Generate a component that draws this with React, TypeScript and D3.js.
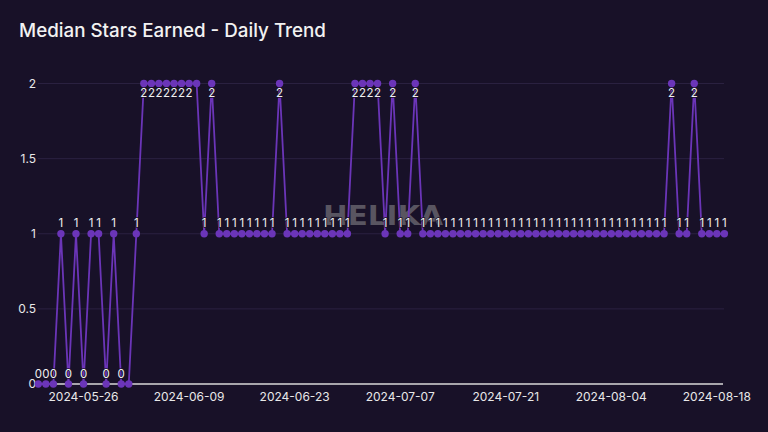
import React from "react";
import * as d3 from "d3";

const title = "Median Stars Earned - Daily Trend";
const startDate = "2024-05-20";
const values: number[] = [
  0, 0, 0, 1, 0, 1, 0, 1, 1, 0, 1, 0, 0, 1,
  2, 2, 2, 2, 2, 2, 2, 2,
  1, 2,
  1, 1, 1, 1, 1, 1, 1, 1,
  2,
  1, 1, 1, 1, 1, 1, 1, 1, 1,
  2, 2, 2, 2,
  1, 2, 1, 1, 2,
  1, 1, 1, 1, 1, 1, 1, 1, 1, 1, 1, 1, 1, 1, 1, 1, 1, 1, 1, 1, 1, 1, 1, 1, 1, 1, 1, 1, 1, 1, 1, 1, 1,
  2, 1, 1, 2,
  1, 1, 1, 1,
];
const hiddenLabels: number[] = [12, 21];
const xTickLabels = ["2024-05-26", "2024-06-09", "2024-06-23", "2024-07-07", "2024-07-21", "2024-08-04", "2024-08-18"];
const yTickValues = [0, 0.5, 1, 1.5, 2];

const W = 768;
const H = 432;
const BG = "#181128";
const PURPLE = "#6b35b8";
const FONT = "Inter, 'DejaVu Sans', sans-serif";

const parse = d3.utcParse("%Y-%m-%d");
const start = parse(startDate) as Date;
const dates = values.map((_, i) => d3.utcDay.offset(start, i));

export default function App() {
  const x = d3.scaleUtc().domain([dates[0], dates[dates.length - 1]]).range([38.3, 724.4]);
  const y = d3.scaleLinear().domain([0, 2]).range([384, 83.5]);
  const line = d3
    .line<number>()
    .x((_, i) => x(dates[i]))
    .y((d) => y(d));

  return (
    <div style={{ position: "fixed", left: 0, top: 0, width: W, height: H }}>
      <svg width={W} height={H} style={{ display: "block" }}>
        <rect x={0} y={0} width={W} height={H} fill={BG} />
        <text x={19} y={37} fill="#f2f2f2" fontFamily={FONT} fontSize={18.8} fontWeight={500}>
          {title}
        </text>
        {yTickValues.map((v) => (
          <g key={v}>
            {v !== 0 && (
              <line x1={38} x2={724} y1={y(v)} y2={y(v)} stroke="#2a2140" strokeWidth={1} />
            )}
            <text
              x={36}
              y={y(v)}
              dy="0.35em"
              textAnchor="end"
              fill="#e8e8e8"
              fontFamily={FONT}
              fontSize={12}
            >
              {d3.format("~g")(v)}
            </text>
          </g>
        ))}
        <line x1={35} x2={723} y1={y(0)} y2={y(0)} stroke="#d8d8d8" strokeWidth={1.5} />
        {xTickLabels.map((t) => (
          <text
            key={t}
            x={x(parse(t) as Date)}
            y={397}
            dy="0.35em"
            textAnchor="middle"
            fill="#e8e8e8"
            fontFamily={FONT}
            fontSize={12}
          >
            {t}
          </text>
        ))}
        <text
          x={323}
          y={225}
          textLength={120}
          lengthAdjust="spacingAndGlyphs"
          fill="#9a9a9a"
          fillOpacity={0.5}
          fontFamily="'DejaVu Sans', sans-serif"
          fontWeight="bold"
          fontSize={27}
        >
          HELIKA
        </text>
        <path d={line(values) || ""} fill="none" stroke={PURPLE} strokeWidth={1.8} />
        {values.map((v, i) => (
          <circle key={i} cx={x(dates[i])} cy={y(v)} r={3.7} fill={PURPLE} />
        ))}
        {values.map((v, i) =>
          hiddenLabels.includes(i) ? null : (
            <text
              key={"l" + i}
              x={x(dates[i])}
              y={v === 2 ? y(v) + 9.5 : y(v) - 10.5}
              dy="0.35em"
              textAnchor="middle"
              fill="#f0f0f0"
              stroke={BG}
              strokeWidth={1.5}
              paintOrder="stroke"
              fontFamily={FONT}
              fontSize={11.5}
            >
              {v}
            </text>
          )
        )}
      </svg>
    </div>
  );
}
